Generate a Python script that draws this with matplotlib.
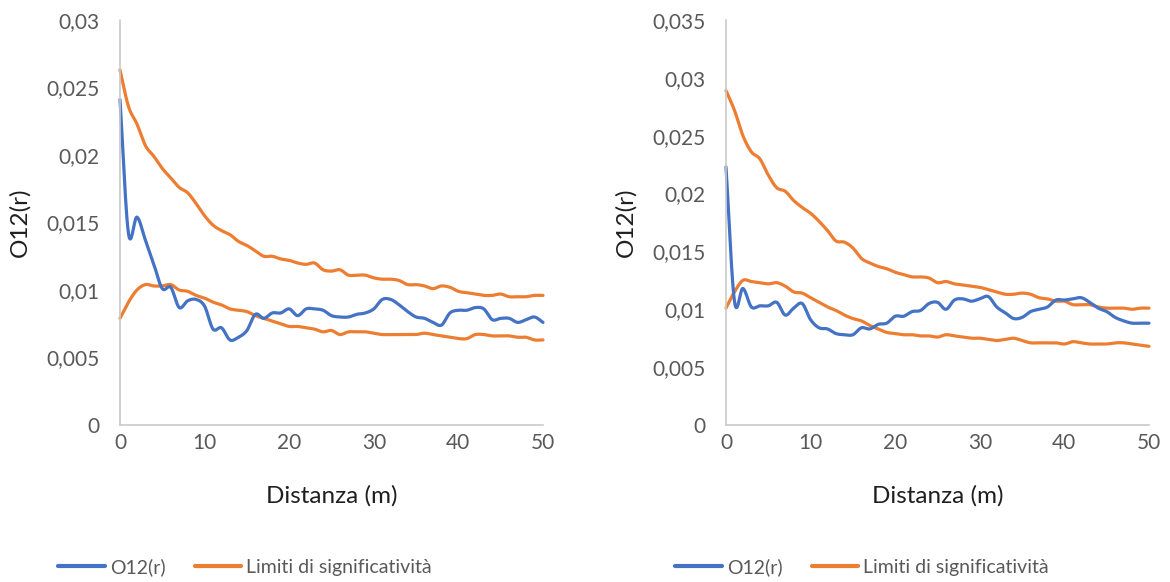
import numpy as np
import matplotlib
matplotlib.use("Agg")
import matplotlib.pyplot as plt
from matplotlib.lines import Line2D
from matplotlib.ticker import FuncFormatter, MultipleLocator

plt.rcParams['font.family'] = ['Lato', 'DejaVu Sans']

# Distance (m)
distance = list(range(0, 51))

# --- Left panel ---
o12_a = [0.0241, 0.0142, 0.0154, 0.0137, 0.0119, 0.0101, 0.0102, 0.0087, 0.0092, 0.0093,
         0.0088, 0.0071, 0.0072, 0.0063, 0.0065, 0.0070, 0.0082, 0.0079, 0.0083, 0.0083,
         0.0086, 0.0081, 0.0086, 0.0086, 0.0085, 0.0081, 0.0080, 0.0080, 0.0082, 0.0083,
         0.0086, 0.0093, 0.0093, 0.0089, 0.0084, 0.0080, 0.0079, 0.0076, 0.0074, 0.0083,
         0.0085, 0.0085, 0.0087, 0.0086, 0.0078, 0.0079, 0.0079, 0.0076, 0.0078, 0.0080,
         0.0076]
upper_a = [0.0263, 0.0236, 0.0223, 0.0207, 0.0199, 0.0190, 0.0183, 0.0176, 0.0172, 0.0164,
           0.0155, 0.0148, 0.0144, 0.0141, 0.0136, 0.0133, 0.0129, 0.0125, 0.0125, 0.0123,
           0.0122, 0.0120, 0.0119, 0.0120, 0.0115, 0.0114, 0.0115, 0.0111, 0.0111, 0.0111,
           0.0109, 0.0108, 0.0108, 0.0107, 0.0104, 0.0104, 0.0103, 0.0101, 0.0103, 0.0102,
           0.0099, 0.0098, 0.0097, 0.0096, 0.0096, 0.0097, 0.0095, 0.0095, 0.0095, 0.0096,
           0.0096]
lower_a = [0.0079, 0.0091, 0.0100, 0.0104, 0.0103, 0.0103, 0.0104, 0.0100, 0.0099, 0.0096,
           0.0094, 0.0091, 0.0089, 0.0086, 0.0085, 0.0084, 0.0081, 0.0079, 0.0077, 0.0075,
           0.0073, 0.0073, 0.0072, 0.0071, 0.0069, 0.0070, 0.0067, 0.0069, 0.0069, 0.0069,
           0.0068, 0.0067, 0.0067, 0.0067, 0.0067, 0.0067, 0.0068, 0.0067, 0.0066, 0.0065,
           0.0064, 0.0064, 0.0067, 0.0067, 0.0066, 0.0066, 0.0066, 0.0065, 0.0065, 0.0063,
           0.0063]

# --- Right panel ---
o12_b = [0.0223, 0.0107, 0.0118, 0.0102, 0.0103, 0.0103, 0.0106, 0.0095, 0.0101, 0.0105,
         0.0091, 0.0084, 0.0083, 0.0079, 0.0078, 0.0078, 0.0084, 0.0083, 0.0087, 0.0088,
         0.0094, 0.0094, 0.0098, 0.0099, 0.0105, 0.0106, 0.0100, 0.0108, 0.0109, 0.0107,
         0.0109, 0.0111, 0.0102, 0.0097, 0.0092, 0.0093, 0.0098, 0.0100, 0.0102, 0.0108,
         0.0108, 0.0109, 0.0110, 0.0106, 0.0101, 0.0098, 0.0093, 0.0090, 0.0088, 0.0088,
         0.0088]
upper_b = [0.0289, 0.0272, 0.0250, 0.0236, 0.0230, 0.0216, 0.0205, 0.0202, 0.0194, 0.0188,
           0.0183, 0.0176, 0.0168, 0.0159, 0.0158, 0.0153, 0.0144, 0.0140, 0.0137, 0.0135,
           0.0132, 0.0130, 0.0128, 0.0128, 0.0127, 0.0123, 0.0124, 0.0122, 0.0121, 0.0120,
           0.0119, 0.0117, 0.0115, 0.0113, 0.0113, 0.0114, 0.0113, 0.0110, 0.0109, 0.0107,
           0.0107, 0.0104, 0.0104, 0.0104, 0.0102, 0.0101, 0.0101, 0.0101, 0.0100, 0.0101,
           0.0101]
lower_b = [0.0101, 0.0115, 0.0125, 0.0124, 0.0123, 0.0122, 0.0123, 0.0120, 0.0115, 0.0114,
           0.0110, 0.0106, 0.0102, 0.0099, 0.0095, 0.0092, 0.0090, 0.0086, 0.0083, 0.0080,
           0.0079, 0.0078, 0.0078, 0.0077, 0.0077, 0.0076, 0.0078, 0.0077, 0.0076, 0.0075,
           0.0075, 0.0074, 0.0073, 0.0074, 0.0075, 0.0073, 0.0071, 0.0071, 0.0071, 0.0071,
           0.0070, 0.0072, 0.0071, 0.0070, 0.0070, 0.0070, 0.0071, 0.0071, 0.0070, 0.0069,
           0.0068]

x_ticks = [0, 10, 20, 30, 40, 50]
y_max_a, y_step = 0.03, 0.005
y_max_b = 0.035

BLUE = '#4472C4'
ORANGE = '#ED7D31'
GRAY_TXT = '#595959'
AXIS_CLR = '#c9c9c9'
TITLE_CLR = '#1f1f1f'


def smooth(x, y, n=20):
    """Catmull-Rom interpolation for a smoothed line through the points."""
    x = np.asarray(x, float)
    y = np.asarray(y, float)
    px = np.concatenate([[2 * x[0] - x[1]], x, [2 * x[-1] - x[-2]]])
    py = np.concatenate([[2 * y[0] - y[1]], y, [2 * y[-1] - y[-2]]])
    t = np.linspace(0, 1, n, endpoint=False)
    xs, ys = [], []
    for i in range(1, len(px) - 2):
        for arr, out in ((px, xs), (py, ys)):
            p0, p1, p2, p3 = arr[i - 1], arr[i], arr[i + 1], arr[i + 2]
            out.append(0.5 * ((2 * p1) + (-p0 + p2) * t
                              + (2 * p0 - 5 * p1 + 4 * p2 - p3) * t ** 2
                              + (-p0 + 3 * p1 - 3 * p2 + p3) * t ** 3))
    xs.append([x[-1]])
    ys.append([y[-1]])
    return np.concatenate(xs), np.concatenate(ys)


def comma_fmt(v, _pos):
    if abs(v) < 1e-12:
        return '0'
    return f"{v:.3f}".rstrip('0').rstrip('.').replace('.', ',')


fig = plt.figure(figsize=(11.70, 5.82), dpi=100)
ax_w = 423 / 1170
ax_h = 405 / 582
bottom = 1 - 425 / 582
ax_a = fig.add_axes([120 / 1170, bottom, ax_w, ax_h])
ax_b = fig.add_axes([726 / 1170, bottom, ax_w, ax_h])

panels = [
    (ax_a, o12_a, upper_a, lower_a, y_max_a, 0.296),
    (ax_b, o12_b, upper_b, lower_b, y_max_b, 0.322),
]

for ax, o12, up, lo, ymax, leg_x in panels:
    for series, col in ((up, ORANGE), (lo, ORANGE), (o12, BLUE)):
        sx, sy = smooth(distance, series)
        ax.plot(sx, sy, color=col, lw=2.3, solid_capstyle='round', clip_on=False)

    ax.set_xlim(0, 50)
    ax.set_ylim(0, ymax)
    ax.set_xticks(x_ticks)
    ax.yaxis.set_major_locator(MultipleLocator(y_step))
    ax.yaxis.set_major_formatter(FuncFormatter(comma_fmt))
    ax.tick_params(axis='both', length=0, labelsize=15, colors=GRAY_TXT)
    ax.tick_params(axis='y', pad=15)
    ax.tick_params(axis='x', pad=6)
    for side in ('top', 'right'):
        ax.spines[side].set_visible(False)
    for side in ('left', 'bottom'):
        ax.spines[side].set_color(AXIS_CLR)
        ax.spines[side].set_linewidth(1.2)

    ax.set_xlabel('Distanza (m)', fontsize=17.5, color=TITLE_CLR)
    ax.xaxis.set_label_coords(0.5, -0.175)
    ax.xaxis.label.set_va('center')
    ax.set_ylabel('O12(r)', fontsize=17.5, color=TITLE_CLR)
    ax.yaxis.set_label_coords(-0.236, 0.5)
    ax.yaxis.label.set_va('center')

    handles = [Line2D([], [], color=BLUE, lw=3, solid_capstyle='round'),
               Line2D([], [], color=ORANGE, lw=3, solid_capstyle='round')]
    ax.legend(handles, ['O12(r)', 'Limiti di significatività'], loc='center',
              bbox_to_anchor=(leg_x, -0.351), ncol=2, frameon=False,
              fontsize=14, labelcolor=GRAY_TXT, handlelength=2.4,
              handletextpad=0.25, columnspacing=1.5)

fig.savefig('out.png', dpi=100)
